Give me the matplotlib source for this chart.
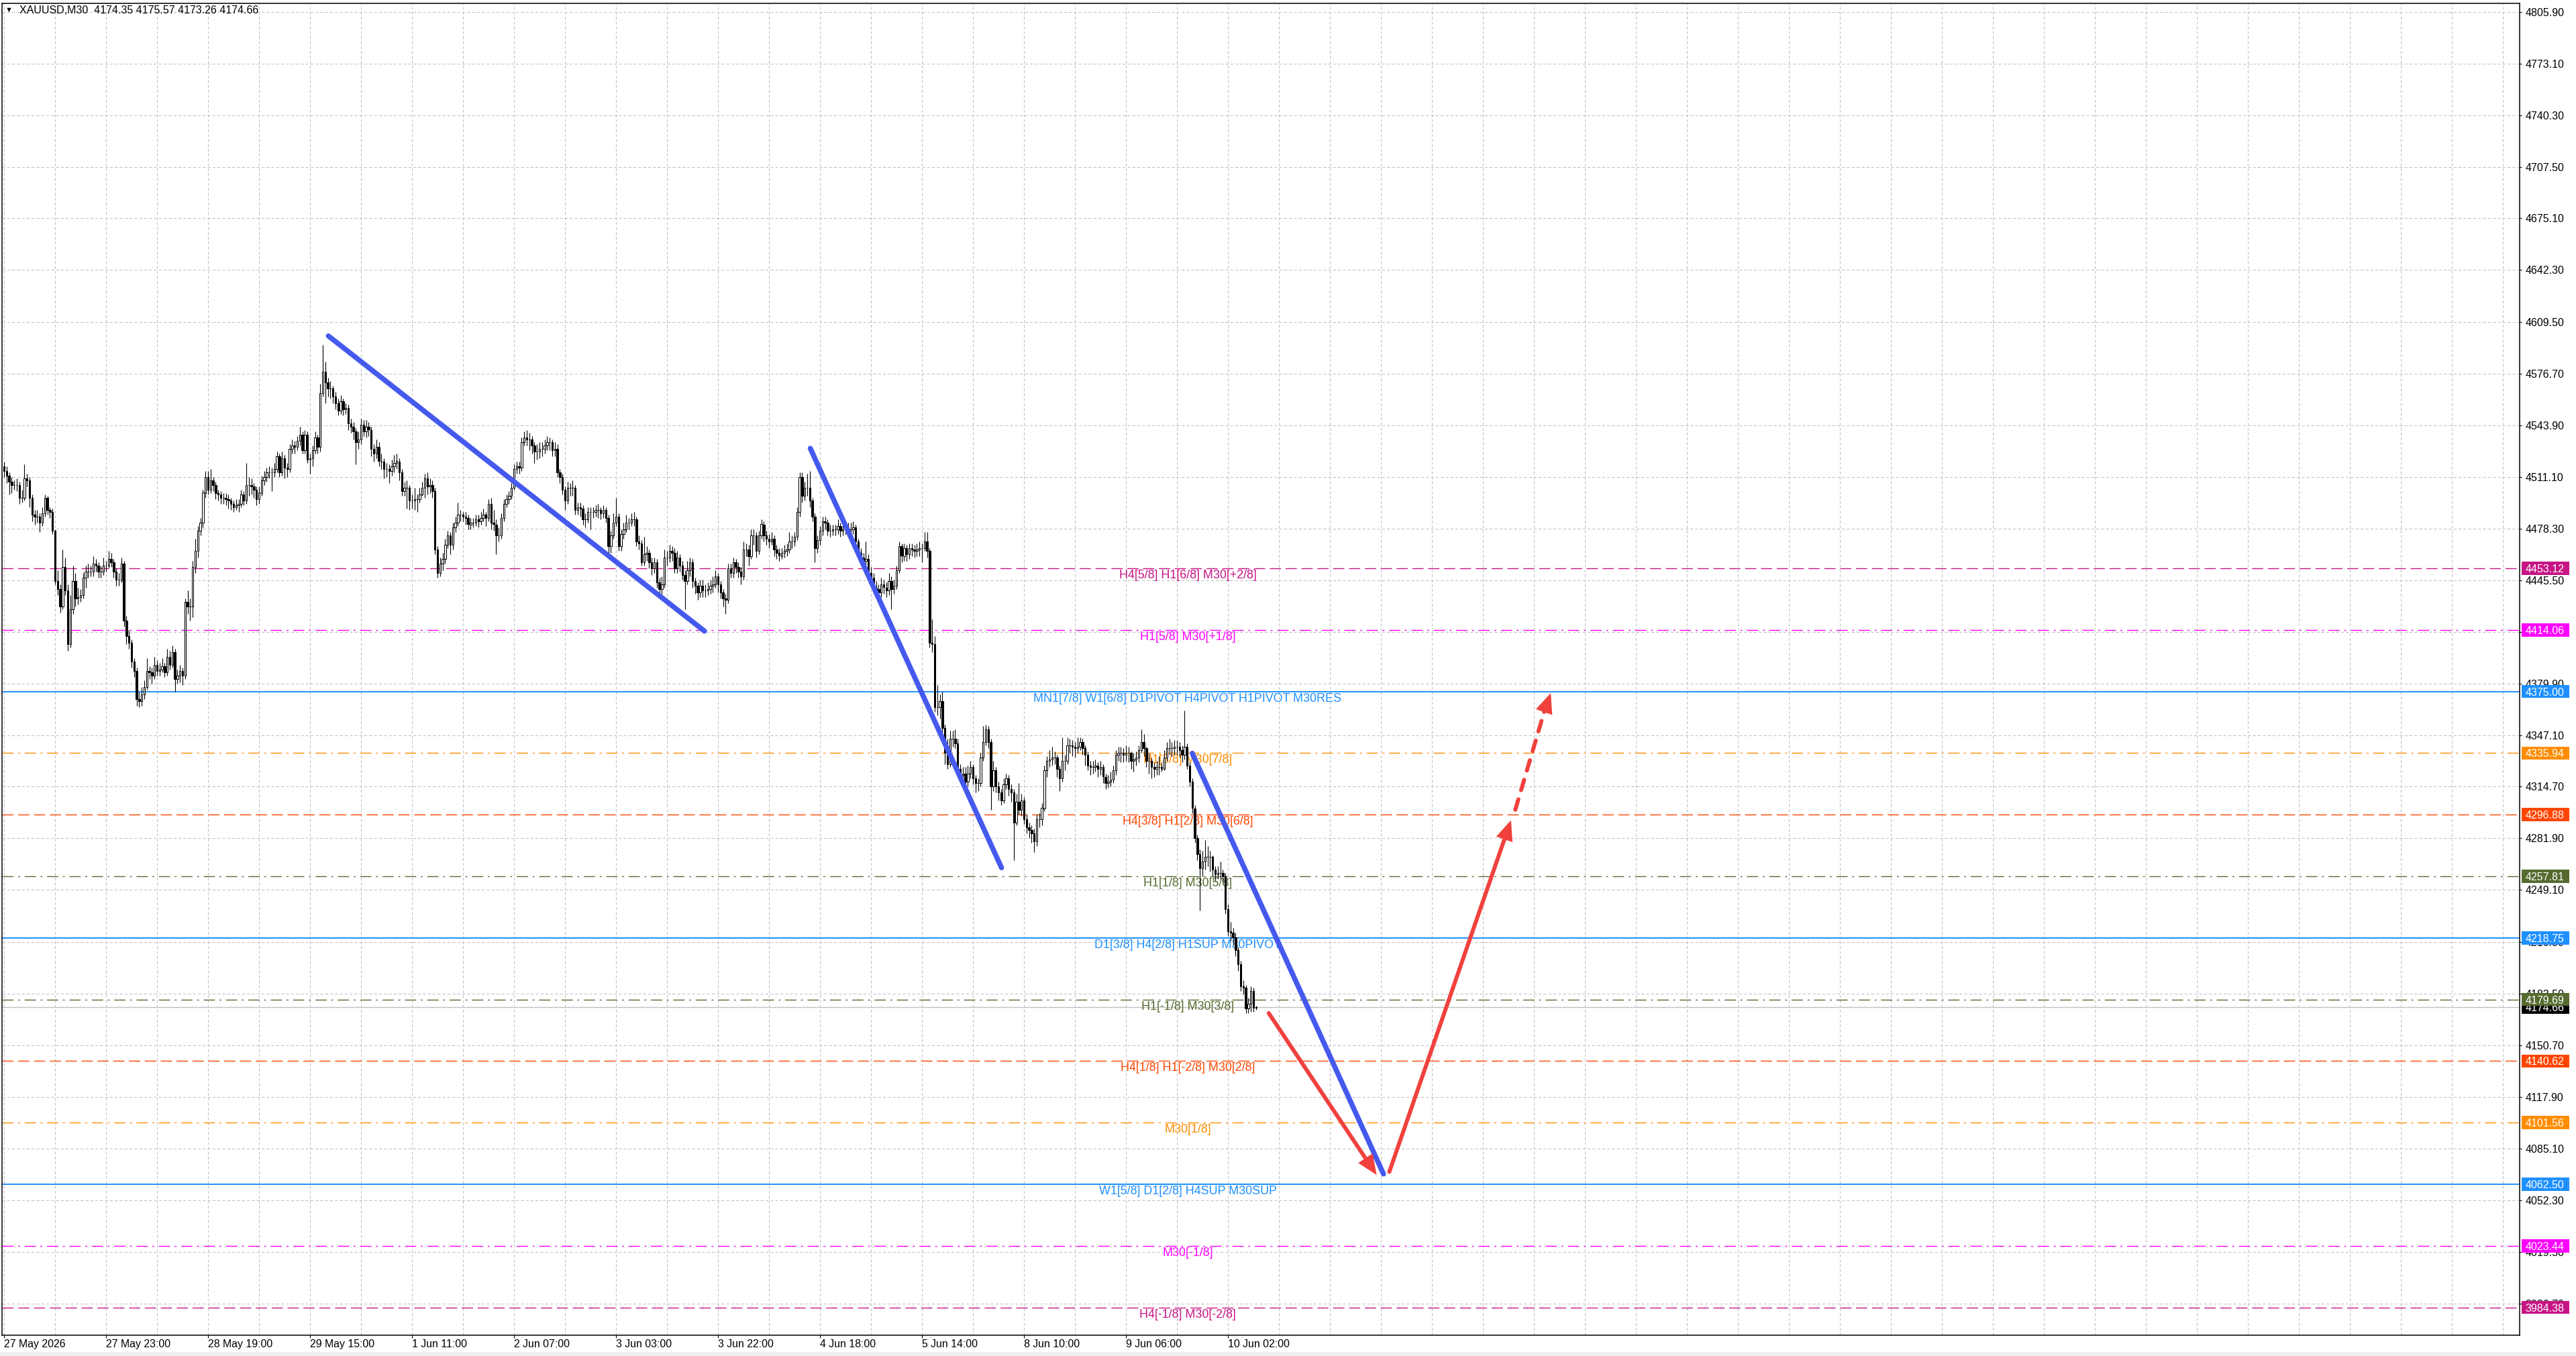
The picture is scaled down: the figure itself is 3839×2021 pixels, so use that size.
"""XAUUSD M30 chart with Murrey-style levels, trend lines and arrows."""
import matplotlib
matplotlib.use("Agg")
import matplotlib.pyplot as plt
from matplotlib.patches import Rectangle, FancyArrowPatch
import numpy as np

plt.rcParams["font.family"] = ["Liberation Sans", "DejaVu Sans"]

W, H, DPI = 3839, 2021, 100

# ---- data ----------------------------------------------------------------
FIRST_OPEN = 4518.0
closes = [
    # 27 May -> 29 May
    4515, 4512, 4508, 4506, 4506, 4506, 4498, 4498, 4510, 4509,
    4498, 4487, 4486, 4486, 4482, 4488, 4498, 4490, 4489, 4477,
    4445, 4440, 4429, 4454, 4439, 4405, 4427, 4445, 4434, 4435,
    4436, 4447, 4451, 4451, 4451, 4456, 4455, 4451, 4451, 4455,
    4455, 4459, 4457, 4451, 4446, 4446, 4456, 4420, 4410, 4406,
    4394, 4388, 4370, 4369, 4373, 4378, 4388, 4387, 4385, 4392,
    4388, 4389, 4391, 4387, 4397, 4392, 4400, 4383, 4385, 4388,
    4385, 4432, 4429, 4429, 4454, 4464, 4477, 4482, 4501, 4511,
    4503, 4509, 4506, 4501, 4500, 4498, 4498, 4497, 4496, 4494,
    4492, 4493, 4494, 4500, 4496, 4506, 4506, 4505, 4503, 4497,
    4501, 4509, 4511, 4514, 4514, 4514, 4516, 4524, 4514, 4523,
    4517, 4516, 4529, 4531, 4530, 4534, 4538, 4528, 4538, 4522,
    4523, 4528, 4536, 4530, 4564, 4578, 4571, 4567, 4567, 4562,
    4558, 4553, 4559, 4554, 4555,
    # 29 May -> 3 Jun
    4545, 4543, 4540, 4533, 4535, 4544, 4540, 4543, 4541, 4529,
    4526, 4530, 4521, 4521, 4516, 4516, 4515, 4518, 4520, 4521,
    4514, 4502, 4504, 4504, 4496, 4496, 4497, 4497, 4500, 4504,
    4510, 4505, 4506, 4502, 4465, 4450, 4456, 4459, 4468, 4474,
    4468, 4479, 4482, 4487, 4487, 4486, 4485, 4481, 4482, 4482,
    4484, 4483, 4485, 4487, 4485, 4494, 4482, 4481, 4474, 4474,
    4485, 4494, 4497, 4499, 4504, 4516, 4518, 4517, 4533, 4536,
    4535, 4535, 4531, 4527, 4527, 4529, 4529, 4531, 4533, 4533,
    4528, 4529, 4514, 4511, 4503, 4496, 4504, 4504, 4504, 4490,
    4492, 4491, 4484, 4484, 4489, 4489, 4489, 4490, 4490, 4488,
    4490, 4485, 4467, 4474, 4482, 4486, 4467, 4475, 4478, 4482,
    4482, 4484, 4484, 4470, 4469, 4457, 4462, 4463, 4457, 4453,
    # 3 Jun -> 5 Jun
    4457, 4444, 4440, 4443, 4460, 4460, 4464, 4463, 4453, 4460,
    4455, 4449, 4445, 4452, 4457, 4445, 4442, 4438, 4442, 4439,
    4439, 4440, 4442, 4443, 4448, 4443, 4438, 4434, 4433, 4453,
    4450, 4457, 4454, 4451, 4448, 4465, 4465, 4461, 4474, 4474,
    4464, 4474, 4481, 4474, 4472, 4470, 4472, 4465, 4463, 4461,
    4463, 4464, 4465, 4470, 4470, 4473, 4489, 4511, 4499, 4504,
    4504, 4496, 4486, 4466, 4471, 4477, 4483, 4482, 4477, 4477,
    4478, 4478, 4480, 4477, 4478, 4479, 4478, 4478, 4479, 4470,
    4463, 4460, 4458, 4459, 4450, 4447, 4441, 4440, 4438, 4443,
    4441, 4439, 4445, 4440, 4442, 4452, 4467, 4461, 4466, 4462,
    4466, 4465, 4464, 4465, 4466, 4466, 4470, 4464, 4406, 4405,
    # 5 Jun -> 9 Jun
    4365, 4365, 4369, 4352, 4336, 4329, 4345, 4345, 4342, 4326,
    4322, 4323, 4318, 4323, 4327, 4320, 4317, 4317, 4333, 4343,
    4351, 4343, 4315, 4325, 4315, 4311, 4306, 4316, 4320, 4313,
    4311, 4292, 4305, 4300, 4306, 4294, 4289, 4287, 4285, 4280,
    4294, 4294, 4301, 4325, 4331, 4332, 4333, 4333, 4326, 4320,
    4331, 4331, 4341, 4341, 4340, 4339, 4340, 4343, 4339, 4335,
    4328, 4327, 4327, 4328, 4326, 4327, 4321, 4317, 4318, 4319,
    4325,
    4335, 4336, 4336, 4335, 4336, 4336, 4331, 4332, 4333, 4338,
    4343, 4339, 4331, 4331, 4327, 4326, 4327, 4327, 4326, 4333,
    4339, 4339, 4339, 4340, 4340, 4338, 4335, 4340, 4328, 4318,
    4301, 4282, 4272, 4263, 4267, 4270, 4270, 4270, 4262, 4259,
    4260, 4260,
    # 9 Jun -> 10 Jun
    4258, 4237, 4223, 4222, 4219, 4211, 4202, 4188, 4187, 4174,
    4177, 4185, 4174.35, 4174.66,
]
highs = [
    4521, 4518, 4514, 4511, 4509, 4510, 4508, 4503, 4519, 4513,
    4511, 4500, 4490, 4490, 4488, 4492, 4500, 4499, 4492, 4491,
    4478, 4452, 4443, 4465, 4460, 4443, 4436, 4455, 4450, 4441,
    4440, 4450, 4455, 4456, 4455, 4461, 4459, 4457, 4455, 4460,
    4458, 4464, 4463, 4459, 4453, 4450, 4460, 4458, 4423, 4414,
    4408, 4396, 4390, 4375, 4378, 4382, 4396, 4391, 4390, 4397,
    4395, 4393, 4396, 4393, 4402, 4401, 4404, 4402, 4389, 4392,
    4390, 4434, 4439, 4434, 4458, 4472, 4480, 4485, 4503, 4515,
    4515, 4516, 4511, 4508, 4503, 4502, 4501, 4501, 4500, 4498,
    4496, 4497, 4497, 4503, 4502, 4520, 4511, 4510, 4507, 4505,
    4505, 4512, 4515, 4517, 4518, 4517, 4520, 4527, 4526, 4527,
    4525, 4520, 4532, 4535, 4534, 4537, 4543, 4540, 4541, 4540,
    4526, 4531, 4540, 4538, 4570, 4595, 4584, 4574, 4572, 4569,
    4565, 4561, 4563, 4561, 4558,
    4557, 4548, 4546, 4542, 4540, 4548, 4547, 4547, 4546, 4543,
    4532, 4535, 4533, 4526, 4523, 4520, 4519, 4522, 4525, 4526,
    4523, 4516, 4508, 4509, 4506, 4500, 4504, 4500, 4504, 4508,
    4513, 4514, 4510, 4509, 4504, 4467, 4460, 4463, 4472, 4477,
    4476, 4482, 4486, 4495, 4490, 4489, 4489, 4487, 4485, 4485,
    4487, 4487, 4489, 4491, 4489, 4497, 4498, 4490, 4484, 4479,
    4488, 4497, 4500, 4502, 4507, 4519, 4521, 4521, 4536, 4540,
    4541, 4539, 4537, 4533, 4532, 4533, 4533, 4535, 4537, 4536,
    4535, 4533, 4532, 4516, 4513, 4505, 4508, 4507, 4509, 4506,
    4495, 4495, 4493, 4488, 4492, 4492, 4492, 4493, 4494, 4492,
    4493, 4492, 4487, 4477, 4488, 4498, 4488, 4478, 4482, 4487,
    4485, 4488, 4489, 4486, 4474, 4471, 4473, 4467, 4465, 4460,
    4460, 4459, 4447, 4448, 4465, 4464, 4468, 4467, 4466, 4464,
    4462, 4458, 4452, 4458, 4460, 4459, 4447, 4444, 4446, 4446,
    4443, 4444, 4446, 4448, 4452, 4450, 4445, 4440, 4437, 4456,
    4456, 4460, 4459, 4457, 4454, 4470, 4469, 4468, 4478, 4478,
    4476, 4477, 4484, 4483, 4477, 4475, 4476, 4474, 4468, 4466,
    4466, 4468, 4469, 4476, 4474, 4476, 4492, 4514, 4514, 4508,
    4513, 4515, 4498, 4488, 4474, 4480, 4486, 4486, 4484, 4481,
    4481, 4481, 4484, 4482, 4482, 4483, 4482, 4482, 4483, 4481,
    4472, 4466, 4463, 4470, 4462, 4454, 4450, 4445, 4443, 4447,
    4446, 4444, 4450, 4448, 4446, 4455, 4470, 4469, 4469, 4468,
    4469, 4469, 4468, 4469, 4470, 4469, 4476, 4476, 4466, 4421,
    4410, 4379, 4373, 4375, 4354, 4345, 4350, 4350, 4351, 4345,
    4329, 4327, 4327, 4328, 4331, 4329, 4322, 4320, 4336, 4353,
    4354, 4353, 4345, 4331, 4327, 4318, 4313, 4320, 4323, 4322,
    4316, 4313, 4310, 4317, 4310, 4308, 4297, 4292, 4290, 4288,
    4297, 4298, 4304, 4328, 4334, 4338, 4340, 4337, 4335, 4328,
    4346, 4335, 4346, 4345, 4344, 4343, 4346, 4346, 4345, 4341,
    4337, 4331, 4331, 4332, 4330, 4331, 4329, 4323, 4322, 4324,
    4328,
    4338, 4340, 4340, 4339, 4341, 4340, 4337, 4336, 4337, 4341,
    4351, 4348, 4340, 4336, 4333, 4330, 4331, 4334, 4330, 4338,
    4343, 4345, 4343, 4344, 4344, 4343, 4341, 4363, 4342, 4330,
    4320, 4303, 4284, 4275, 4274, 4281, 4277, 4274, 4271, 4264,
    4264, 4267,
    4262, 4260, 4240, 4229, 4225, 4222, 4213, 4204, 4192, 4189,
    4181, 4188, 4187, 4175.57,
]
lows = [
    4511, 4507, 4500, 4501, 4503, 4502, 4494, 4495, 4496, 4505,
    4492, 4483, 4481, 4482, 4476, 4480, 4486, 4487, 4485, 4475,
    4443, 4436, 4425, 4427, 4436, 4401, 4403, 4424, 4429, 4430,
    4432, 4434, 4441, 4447, 4448, 4448, 4451, 4447, 4447, 4449,
    4451, 4453, 4454, 4447, 4442, 4442, 4444, 4416, 4405, 4402,
    4390, 4384, 4366, 4365, 4366, 4370, 4376, 4383, 4380, 4383,
    4385, 4385, 4387, 4384, 4385, 4389, 4390, 4375, 4380, 4381,
    4379, 4383, 4424, 4420, 4422, 4450, 4460, 4474, 4479, 4498,
    4500, 4501, 4502, 4497, 4496, 4494, 4494, 4493, 4491, 4490,
    4489, 4490, 4489, 4492, 4493, 4494, 4499, 4500, 4498, 4493,
    4494, 4499, 4506, 4508, 4510, 4502, 4511, 4514, 4511, 4512,
    4510, 4511, 4514, 4526, 4526, 4528, 4531, 4526, 4526, 4520,
    4513, 4518, 4526, 4526, 4527, 4562, 4558, 4562, 4561, 4558,
    4554, 4550, 4551, 4550, 4551,
    4541, 4539, 4535, 4519, 4529, 4532, 4537, 4536, 4537, 4524,
    4521, 4523, 4518, 4516, 4510, 4511, 4507, 4512, 4514, 4516,
    4509, 4499, 4499, 4491, 4490, 4491, 4490, 4489, 4495, 4499,
    4498, 4500, 4501, 4498, 4462, 4447, 4448, 4452, 4456, 4466,
    4462, 4465, 4476, 4480, 4483, 4483, 4481, 4478, 4478, 4479,
    4480, 4479, 4481, 4483, 4480, 4483, 4478, 4477, 4462, 4470,
    4472, 4483, 4492, 4494, 4497, 4503, 4513, 4513, 4515, 4531,
    4531, 4528, 4526, 4520, 4522, 4523, 4524, 4526, 4528, 4528,
    4524, 4524, 4511, 4507, 4500, 4490, 4494, 4499, 4499, 4487,
    4487, 4486, 4481, 4479, 4482, 4478, 4485, 4486, 4485, 4484,
    4485, 4482, 4462, 4463, 4472, 4480, 4464, 4464, 4472, 4476,
    4478, 4480, 4480, 4467, 4465, 4455, 4455, 4458, 4453, 4449,
    4450, 4441, 4437, 4437, 4441, 4455, 4457, 4458, 4450, 4450,
    4451, 4446, 4427, 4443, 4448, 4441, 4437, 4433, 4435, 4435,
    4435, 4436, 4437, 4438, 4441, 4438, 4434, 4429, 4424, 4431,
    4447, 4447, 4450, 4447, 4443, 4446, 4461, 4455, 4459, 4468,
    4460, 4462, 4472, 4470, 4468, 4466, 4468, 4461, 4459, 4458,
    4459, 4460, 4461, 4463, 4466, 4467, 4471, 4486, 4495, 4496,
    4499, 4492, 4483, 4457, 4463, 4468, 4474, 4478, 4474, 4473,
    4474, 4474, 4475, 4473, 4474, 4475, 4474, 4474, 4475, 4467,
    4459, 4456, 4453, 4454, 4446, 4443, 4437, 4436, 4434, 4435,
    4437, 4435, 4436, 4427, 4437, 4440, 4450, 4457, 4458, 4458,
    4459, 4461, 4460, 4461, 4461, 4457, 4464, 4460, 4403, 4400,
    4362, 4360, 4358, 4349, 4329, 4326, 4327, 4340, 4339, 4322,
    4317, 4318, 4314, 4315, 4320, 4316, 4311, 4312, 4315, 4331,
    4341, 4339, 4300, 4312, 4311, 4306, 4303, 4304, 4313, 4309,
    4305, 4268, 4290, 4297, 4296, 4291, 4285, 4282, 4279, 4273,
    4277, 4289, 4290, 4299, 4321, 4327, 4328, 4329, 4321, 4312,
    4318, 4325, 4329, 4336, 4334, 4333, 4336, 4338, 4335, 4328,
    4325, 4322, 4323, 4324, 4321, 4322, 4317, 4313, 4314, 4315,
    4317,
    4322, 4331, 4330, 4330, 4331, 4330, 4326, 4324, 4328, 4330,
    4336, 4334, 4327, 4323, 4320, 4321, 4322, 4322, 4324, 4325,
    4331, 4335, 4334, 4335, 4335, 4333, 4330, 4332, 4326, 4315,
    4298, 4279, 4268, 4236, 4258, 4262, 4264, 4261, 4258, 4255,
    4256, 4256,
    4254, 4234, 4220, 4217, 4214, 4207, 4198, 4185, 4183, 4171,
    4171, 4172, 4172, 4173.26,
]

date_labels = ["27 May 2026", "27 May 23:00", "28 May 19:00", "29 May 15:00",
               "1 Jun 11:00", "2 Jun 07:00", "3 Jun 03:00", "3 Jun 22:00",
               "4 Jun 18:00", "5 Jun 14:00", "8 Jun 10:00", "9 Jun 06:00",
               "10 Jun 02:00"]
price_ticks = [4805.90, 4773.10, 4740.30, 4707.50, 4675.10, 4642.30, 4609.50,
               4576.70, 4543.90, 4511.10, 4478.30, 4445.50, 4412.70, 4379.90,
               4347.10, 4314.70, 4281.90, 4249.10, 4216.30, 4183.50, 4150.70,
               4117.90, 4085.10, 4052.30, 4019.50, 3986.70]

level_prices = [4453.12, 4414.06, 4375.00, 4335.94, 4296.88, 4257.81, 4218.75,
                4179.69, 4140.62, 4101.56, 4062.50, 4023.44, 3984.38]
level_names = ["H4[5/8] H1[6/8] M30[+2/8]", "H1[5/8] M30[+1/8]",
               "MN1[7/8] W1[6/8] D1PIVOT H4PIVOT H1PIVOT M30RES",
               "H1[3/8] M30[7/8]", "H4[3/8] H1[2/8] M30[6/8]",
               "H1[1/8] M30[5/8]", "D1[3/8] H4[2/8] H1SUP M30PIVOT",
               "H1[-1/8] M30[3/8]", "H4[1/8] H1[-2/8] M30[2/8]", "M30[1/8]",
               "W1[5/8] D1[2/8] H4SUP M30SUP", "M30[-1/8]", "H4[-1/8] M30[-2/8]"]
bid_price = 4174.66

# hand-drawn objects, as (bar, price) pairs
trend_lines = [((127.2, 4600.5), (274.7, 4413.3)),
               ((316.2, 4529.2), (391.2, 4263.2)),
               ((466.0, 4335.8), (541.0, 4069.0))]
solid_arrows = [((496.0, 4171.0), (538.3, 4068.4)),
                ((543.3, 4070.4), (591.0, 4293.3))]
dashed_arrow = ((592.7, 4300.0), (604.0, 4362.0), (606.6, 4374.0))

# ---- styles ---------------------------------------------------------------
MVR, MAG, DB, DO, OR, DOG = "#C71585", "#FF00FF", "#1E90FF", "#FF8C00", "#FF4500", "#556B2F"
DASH = (12, 5)
DASHDOT = (12, 5, 2, 5)
level_colors = [MVR, MAG, DB, DO, OR, DOG, DB, DOG, OR, DO, DB, MAG, MVR]
level_dashes = [DASH, DASHDOT, None, DASHDOT, DASH, DASHDOT, None,
                DASHDOT, DASH, DASHDOT, None, DASHDOT, DASH]
BLUE, RED = "#4559EE", "#F0413C"
GRID = "#C0C0C0"

# pixel layout of the original screenshot
BAR_PX, BAR0_PX = 3.8, 6.0
AX_L, AX_R, AX_T, AX_B = 3, 3755, 5, 1990
REF_P, REF_Y, PX_PER_USD = 4375.0, 1030.6, 2.35
LABEL_BAR = (1770 - BAR0_PX) / BAR_PX


def main():
    assert len(closes) == len(highs) == len(lows)
    c = np.array(closes, float)
    o = np.r_[FIRST_OPEN, c[:-1]]
    hi = np.maximum(np.array(highs, float), np.maximum(o, c))
    lo = np.minimum(np.array(lows, float), np.minimum(o, c))
    idx = np.arange(len(c))

    fig = plt.figure(figsize=(W / DPI, H / DPI), dpi=DPI, facecolor="white")
    ax = fig.add_axes([AX_L / W, 1 - AX_B / H, (AX_R - AX_L) / W, (AX_B - AX_T) / H])
    ax.set_xlim((AX_L - BAR0_PX) / BAR_PX, (AX_R - BAR0_PX) / BAR_PX)
    ax.set_ylim(REF_P - (AX_B - REF_Y) / PX_PER_USD, REF_P + (REF_Y - AX_T) / PX_PER_USD)
    for s in ax.spines.values():
        s.set_color("black")
        s.set_linewidth(1.1)

    # axes, ticks, grid
    ax.yaxis.tick_right()
    ax.set_yticks(price_ticks)
    ax.set_yticklabels([f"{v:.2f}" for v in price_ticks])
    ax.tick_params(axis="y", length=2.5, width=0.8, pad=3.5, labelsize=11.5)
    ax.set_xticks(range(0, 481, 40))
    ax.set_xticklabels(date_labels, ha="left")
    ax.set_xticks(range(20, 987, 20), minor=True)
    ax.tick_params(axis="x", which="major", length=3, width=0.8, pad=1.5, labelsize=11.4)
    ax.tick_params(axis="x", which="minor", length=0)
    ax.set_axisbelow(True)
    ax.grid(True, axis="y", color=GRID, lw=0.75, linestyle=(0, (4, 3)))
    ax.grid(True, axis="x", which="both", color=GRID, lw=0.75, linestyle=(0, (4, 3)))

    # levels and their captions
    ax.axhline(bid_price, color="#C0C0C0", lw=1.0, zorder=2)
    for p, name, col, d in zip(level_prices, level_names, level_colors, level_dashes):
        if d is None:
            ax.axhline(p, color=col, lw=1.4, zorder=2)
        else:
            ax.axhline(p, color=col, lw=1.0, dashes=d, zorder=2)
        ax.annotate(name, xy=(LABEL_BAR, p), xytext=(0, -1.5), textcoords="offset points",
                    ha="center", va="top", color=col, fontsize=12.9, zorder=2.5)

    # candles
    ax.vlines(idx, lo, hi, color="black", lw=0.8, zorder=3)
    bull = c >= o
    ax.bar(idx, c - o, bottom=o, width=0.62,
           color=np.where(bull, "white", "black"), edgecolor="black",
           linewidth=0.75, zorder=4)

    # trend lines and arrows
    for (x0, y0), (x1, y1) in trend_lines:
        ax.plot([x0, x1], [y0, y1], color=BLUE, lw=5.5, solid_capstyle="round", zorder=6)
    head = "-|>,head_length=0.7,head_width=0.3"
    for a, b in solid_arrows:
        arr = FancyArrowPatch(a, b, arrowstyle=head, mutation_scale=20, lw=4.3,
                              color=RED, shrinkA=0, shrinkB=0, zorder=7,
                              capstyle="round", joinstyle="miter")
        ax.add_patch(arr)
    (dx0, dy0), (dx1, dy1), tip = dashed_arrow
    ax.plot([dx0, dx1], [dy0, dy1], color=RED, lw=4.3, dashes=(2.7, 2.4),
            dash_capstyle="round", zorder=7)
    ax.add_patch(FancyArrowPatch((dx1, dy1), tip, arrowstyle=head, mutation_scale=20,
                                 lw=4.3, color=RED, shrinkA=0, shrinkB=0, zorder=7,
                                 joinstyle="miter"))

    # price boxes on the right scale
    tr = ax.get_yaxis_transform()
    box_x = 1 + 3 / (AX_R - AX_L)
    box_w = 71 / (AX_R - AX_L)
    box_h = 19.5 / PX_PER_USD
    boxes = [(bid_price, "black", 9)] + [(p, col, 10) for p, col in zip(level_prices, level_colors)]
    for p, col, z in boxes:
        ax.add_patch(Rectangle((box_x, p - box_h / 2), box_w, box_h, transform=tr,
                               facecolor=col, edgecolor="none", clip_on=False, zorder=z))
        ax.annotate(f"{p:.2f}", xy=(1, p), xycoords=tr, xytext=(6.0, 0),
                    textcoords="offset points", ha="left", va="center_baseline",
                    color="white", fontsize=11.5, zorder=z + 0.5, annotation_clip=False)

    # header and bottom strip
    fig.text(8 / W, 1 - 15 / H, "\u25bc", fontsize=8, va="center", ha="left")
    fig.text(29 / W, 1 - 15 / H, "XAUUSD,M30  4174.35 4175.57 4173.26 4174.66",
             fontsize=11.5, va="center", ha="left")
    fig.add_artist(Rectangle((0, 0), 1, 6 / H, transform=fig.transFigure,
                             facecolor="#F0F0F0", edgecolor="none"))

    fig.savefig("out.png", dpi=DPI, facecolor="white")
    plt.close(fig)


if __name__ == "__main__":
    main()
